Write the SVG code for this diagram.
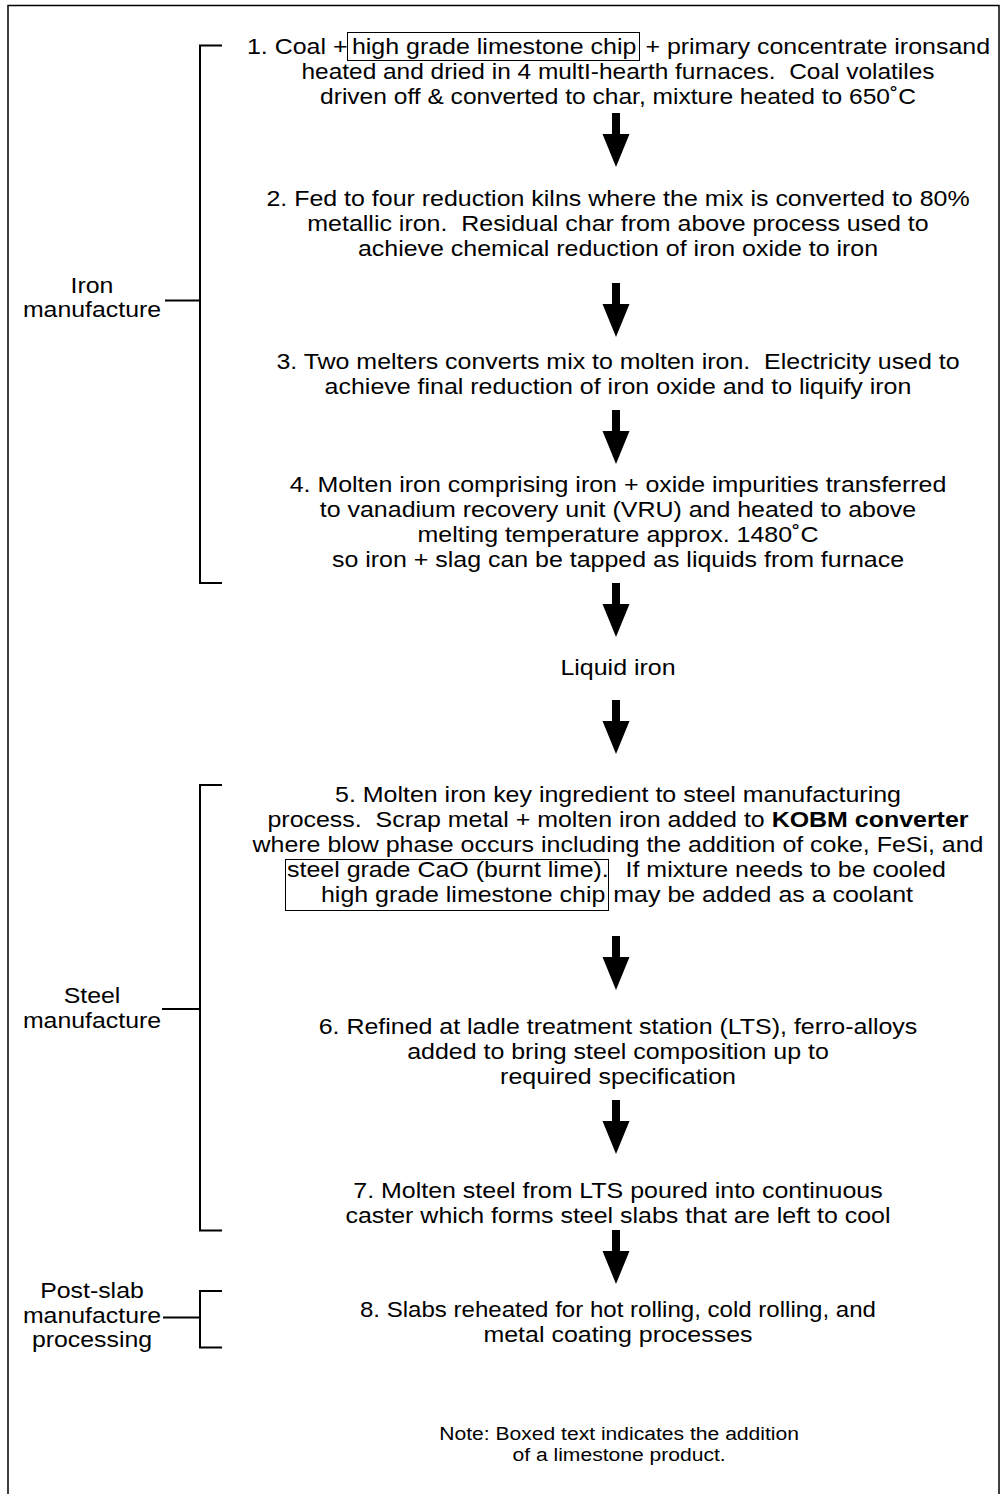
<svg xmlns="http://www.w3.org/2000/svg" xmlns:xlink="http://www.w3.org/1999/xlink" width="1001" height="1494" viewBox="0 0 1001 1494">
<style>
.t { font-family: "Liberation Sans", Arial, sans-serif; font-size: 22px; fill: #000; text-anchor: middle; }
.st { text-anchor: start; }
.en { text-anchor: end; }
.n { font-size: 19px; }
.br { fill: none; stroke: #000; stroke-width: 2; }
.bx { fill: none; stroke: #000; stroke-width: 1; }
.arr { fill: #000; stroke: none; }
</style>
<defs>
<path id="dn" class="arr" d="M-4,0 H4 V21 H13.5 L0,54 L-13.5,21 H-4 Z"/>
</defs>
<rect x="8" y="5.5" width="991" height="1500" fill="#fff" stroke="#000" stroke-width="1.5"/>

<g id="connectors">
<use xlink:href="#dn" href="#dn" x="616" y="113"/>
<use xlink:href="#dn" href="#dn" x="616" y="283"/>
<use xlink:href="#dn" href="#dn" x="616" y="410"/>
<use xlink:href="#dn" href="#dn" x="616" y="583"/>
<use xlink:href="#dn" href="#dn" x="616" y="700"/>
<use xlink:href="#dn" href="#dn" x="616" y="936"/>
<use xlink:href="#dn" href="#dn" x="616" y="1100"/>
<use xlink:href="#dn" href="#dn" x="616" y="1230"/>
</g>

<g id="step1">
<rect class="bx" x="347.5" y="32.5" width="292" height="28"/>
<g transform="matrix(1.135,0,0,1,-83.43,0)">
<text class="t st" x="291.1" y="54">1. Coal +</text>
<text class="t st" x="383.6" y="54">high grade limestone chip</text>
<text class="t en" x="945.8" y="54">+ primary concentrate ironsand</text>
<text class="t" x="618" y="79" textLength="557.7" lengthAdjust="spacingAndGlyphs">heated and dried in 4 multI-hearth furnaces.&#160; Coal volatiles</text>
<text class="t" x="618" y="104" textLength="525" lengthAdjust="spacingAndGlyphs">driven off &amp; converted to char, mixture heated to 650˚C</text>
</g>
</g>

<g id="step2" transform="matrix(1.135,0,0,1,-83.43,0)">
<text class="t" x="618" y="206">2. Fed to four reduction kilns where the mix is converted to 80%</text>
<text class="t" x="618" y="231">metallic iron.&#160; Residual char from above process used to</text>
<text class="t" x="618" y="256">achieve chemical reduction of iron oxide to iron</text>
</g>

<g id="step3" transform="matrix(1.135,0,0,1,-83.43,0)">
<text class="t" x="618" y="369">3. Two melters converts mix to molten iron.&#160; Electricity used to</text>
<text class="t" x="618" y="394">achieve final reduction of iron oxide and to liquify iron</text>
</g>

<g id="step4" transform="matrix(1.135,0,0,1,-83.43,0)">
<text class="t" x="618" y="492">4. Molten iron comprising iron + oxide impurities transferred</text>
<text class="t" x="618" y="517">to vanadium recovery unit (VRU) and heated to above</text>
<text class="t" x="618" y="542">melting temperature approx. 1480˚C</text>
<text class="t" x="618" y="567">so iron + slag can be tapped as liquids from furnace</text>
</g>

<g id="liquid-iron" transform="matrix(1.135,0,0,1,-83.43,0)">
<text class="t" x="618" y="675">Liquid iron</text>
</g>

<g id="step5">
<rect class="bx" x="285.5" y="859.5" width="323" height="51"/>
<g transform="matrix(1.135,0,0,1,-83.43,0)">
<text class="t" x="618" y="802">5. Molten iron key ingredient to steel manufacturing</text>
<text class="t" x="618" y="827">process.&#160; Scrap metal + molten iron added to <tspan font-weight="bold">KOBM converter</tspan></text>
<text class="t" x="618" y="852">where blow phase occurs including the addition of coke, FeSi, and</text>
<text class="t st" x="326.4" y="877">steel grade CaO (burnt lime).</text>
<text class="t en" x="907" y="877">If mixture needs to be cooled</text>
<text class="t st" x="356.3" y="902">high grade limestone chip</text>
<text class="t en" x="877.9" y="902">may be added as a coolant</text>
</g>
</g>

<g id="step6" transform="matrix(1.135,0,0,1,-83.43,0)">
<text class="t" x="618" y="1034">6. Refined at ladle treatment station (LTS), ferro-alloys</text>
<text class="t" x="618" y="1059">added to bring steel composition up to</text>
<text class="t" x="618" y="1084">required specification</text>
</g>

<g id="step7" transform="matrix(1.135,0,0,1,-83.43,0)">
<text class="t" x="618" y="1198">7. Molten steel from LTS poured into continuous</text>
<text class="t" x="618" y="1223">caster which forms steel slabs that are left to cool</text>
</g>

<g id="step8" transform="matrix(1.135,0,0,1,-83.43,0)">
<text class="t" x="618" y="1317" textLength="454.6" lengthAdjust="spacingAndGlyphs">8. Slabs reheated for hot rolling, cold rolling, and</text>
<text class="t" x="618" y="1342">metal coating processes</text>
</g>

<g id="iron-manufacture">
<path class="br" d="M222,45.5 H200 V583 H222 M165,300.5 H200"/>
<g transform="matrix(1.13,0,0,1,-11.96,0)">
<text class="t" x="92" y="293">Iron</text>
<text class="t" x="92" y="317">manufacture</text>
</g>
</g>

<g id="steel-manufacture">
<path class="br" d="M222,785 H200 V1230.5 H222 M162,1009 H200"/>
<g transform="matrix(1.13,0,0,1,-11.96,0)">
<text class="t" x="92" y="1003">Steel</text>
<text class="t" x="92" y="1028">manufacture</text>
</g>
</g>

<g id="post-slab">
<path class="br" d="M222,1291 H200 V1347.5 H222 M163,1317.5 H200"/>
<g transform="matrix(1.13,0,0,1,-11.96,0)">
<text class="t" x="92" y="1298">Post-slab</text>
<text class="t" x="92" y="1323">manufacture</text>
<text class="t" x="92" y="1347">processing</text>
</g>
</g>

<g id="note" transform="matrix(1.11,0,0,1,-67.98,0)">
<text class="t n" x="619" y="1440">Note: Boxed text indicates the addition</text>
<text class="t n" x="619" y="1461">of a limestone product.</text>
</g>
</svg>
